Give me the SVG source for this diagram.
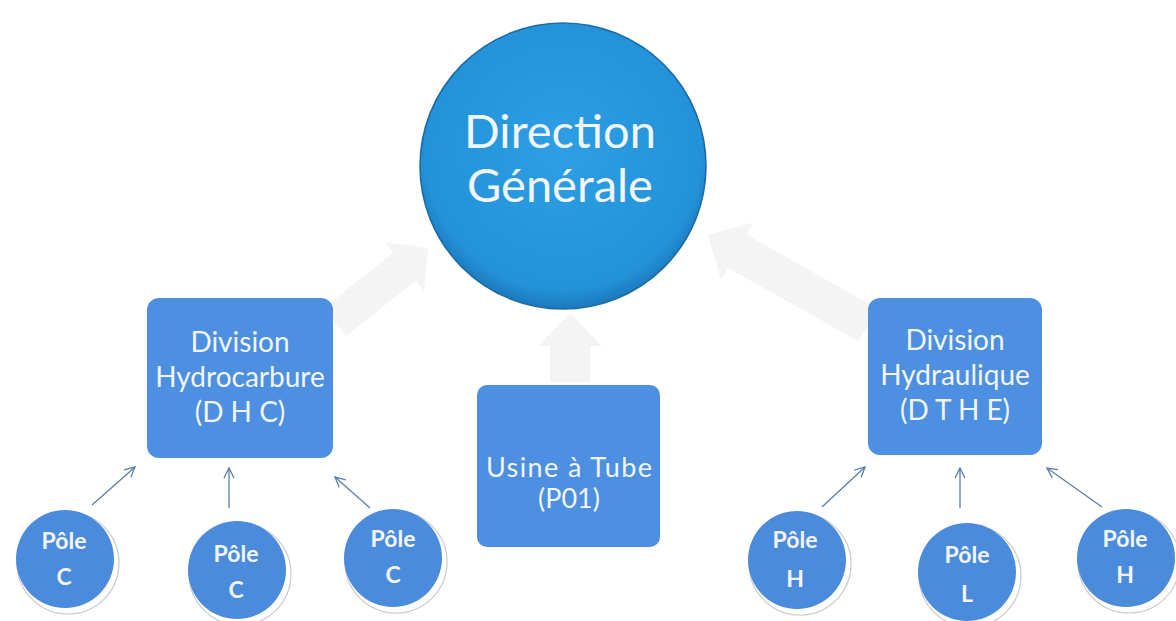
<svg xmlns="http://www.w3.org/2000/svg" width="1176" height="621" viewBox="0 0 1176 621">
<defs>
<radialGradient id="gMain" cx="0.5" cy="0.45" r="0.55">
<stop offset="0" stop-color="#2e9fe4"/>
<stop offset="0.88" stop-color="#2392d8"/>
<stop offset="1" stop-color="#1c78bb"/>
</radialGradient>
<marker id="ah" viewBox="0 0 12 12" refX="11" refY="6" markerWidth="12" markerHeight="12" markerUnits="userSpaceOnUse" orient="auto">
<path d="M1,1 L11,6 L1,11" fill="none" stroke="#5b7fa6" stroke-width="1.3"/>
</marker>
</defs>
<style>
.box{fill:#4d8fe0;}
.pole{fill:#4b8bdc;}
.halo{fill:#ffffff;stroke:#c9c9c9;stroke-width:1.2;}
.t{font-family:Lato,"Open Sans","Liberation Sans",sans-serif;fill:#f2f6fb;text-anchor:middle;}
.tb{font-family:Lato,"Open Sans","Liberation Sans",sans-serif;fill:#f2f6fb;text-anchor:middle;font-weight:bold;font-size:23px;}
.big{fill:#f2f2f2;opacity:0.85;}
.ln{stroke:#5b7fa6;stroke-width:1.3;fill:none;marker-end:url(#ah);}
</style>
<rect width="1176" height="621" fill="#ffffff"/>

<g id="connectors">
<path class="big" transform="translate(335,322) rotate(-38.5)" d="M0,-18 L89,-18 L89,-31 L119,0 L89,31 L89,18 L0,18 Z"/>
<path class="big" transform="translate(868,325) rotate(-150.6)" d="M0,-19 L150,-19 L150,-33 L184,0 L150,33 L150,19 L0,19 Z"/>
<path class="big" transform="translate(570,382) rotate(-90)" d="M0,-20 L36,-20 L36,-32 L69,0 L36,32 L36,20 L0,20 Z"/>
<line class="ln" x1="92" y1="505" x2="135" y2="467"/>
<line class="ln" x1="229" y1="508" x2="229" y2="468"/>
<line class="ln" x1="370" y1="508" x2="335" y2="477"/>
<line class="ln" x1="822" y1="507" x2="865" y2="467"/>
<line class="ln" x1="960" y1="508" x2="960" y2="468"/>
<line class="ln" x1="1102" y1="507" x2="1047" y2="468"/>
</g>

<g id="direction-generale">
<circle cx="563" cy="166" r="143" fill="url(#gMain)" stroke="#1b6aa3" stroke-width="1.5"/>
<text class="t" x="560" y="148" font-size="47">Direction</text>
<text class="t" x="560" y="202" font-size="47">Générale</text>
</g>

<g id="division-hydrocarbure">
<rect class="box" x="147" y="298" width="186" height="160" rx="12"/>
<text class="t" x="240" y="352" font-size="28">Division</text>
<text class="t" x="240" y="387" font-size="28">Hydrocarbure</text>
<text class="t" x="240" y="422" font-size="28">(D H C)</text>
</g>

<g id="usine-a-tube">
<rect class="box" x="477" y="385" width="183" height="162" rx="10"/>
<text class="t" x="569" y="477" font-size="27" textLength="166">Usine à Tube</text>
<text class="t" x="569" y="508" font-size="27">(P01)</text>
</g>

<g id="division-hydraulique">
<rect class="box" x="868" y="298" width="174" height="157" rx="12"/>
<text class="t" x="955" y="350" font-size="28">Division</text>
<text class="t" x="955" y="385" font-size="28">Hydraulique</text>
<text class="t" x="955" y="420" font-size="28">(D T H E)</text>
</g>

<g id="pole-c-1">
<circle class="halo" cx="68" cy="563" r="51"/>
<circle class="pole" cx="65" cy="559" r="49"/>
<text class="tb" x="64" y="549">Pôle</text>
<text class="tb" x="64" y="585">C</text>
</g>
<g id="pole-c-2">
<circle class="halo" cx="240" cy="574" r="51"/>
<circle class="pole" cx="237" cy="570" r="49"/>
<text class="tb" x="236" y="562">Pôle</text>
<text class="tb" x="236" y="598">C</text>
</g>
<g id="pole-c-3">
<circle class="halo" cx="396" cy="562" r="51"/>
<circle class="pole" cx="393" cy="558" r="49"/>
<text class="tb" x="393" y="547">Pôle</text>
<text class="tb" x="393" y="583">C</text>
</g>
<g id="pole-h-1">
<circle class="halo" cx="800" cy="564" r="51"/>
<circle class="pole" cx="797" cy="560" r="49"/>
<text class="tb" x="795" y="548">Pôle</text>
<text class="tb" x="795" y="587">H</text>
</g>
<g id="pole-l">
<circle class="halo" cx="970" cy="576" r="51"/>
<circle class="pole" cx="967" cy="572" r="49"/>
<text class="tb" x="967" y="563">Pôle</text>
<text class="tb" x="967" y="602">L</text>
</g>
<g id="pole-h-2">
<circle class="halo" cx="1129" cy="562" r="51"/>
<circle class="pole" cx="1126" cy="558" r="49"/>
<text class="tb" x="1125" y="547">Pôle</text>
<text class="tb" x="1125" y="583">H</text>
</g>
</svg>
